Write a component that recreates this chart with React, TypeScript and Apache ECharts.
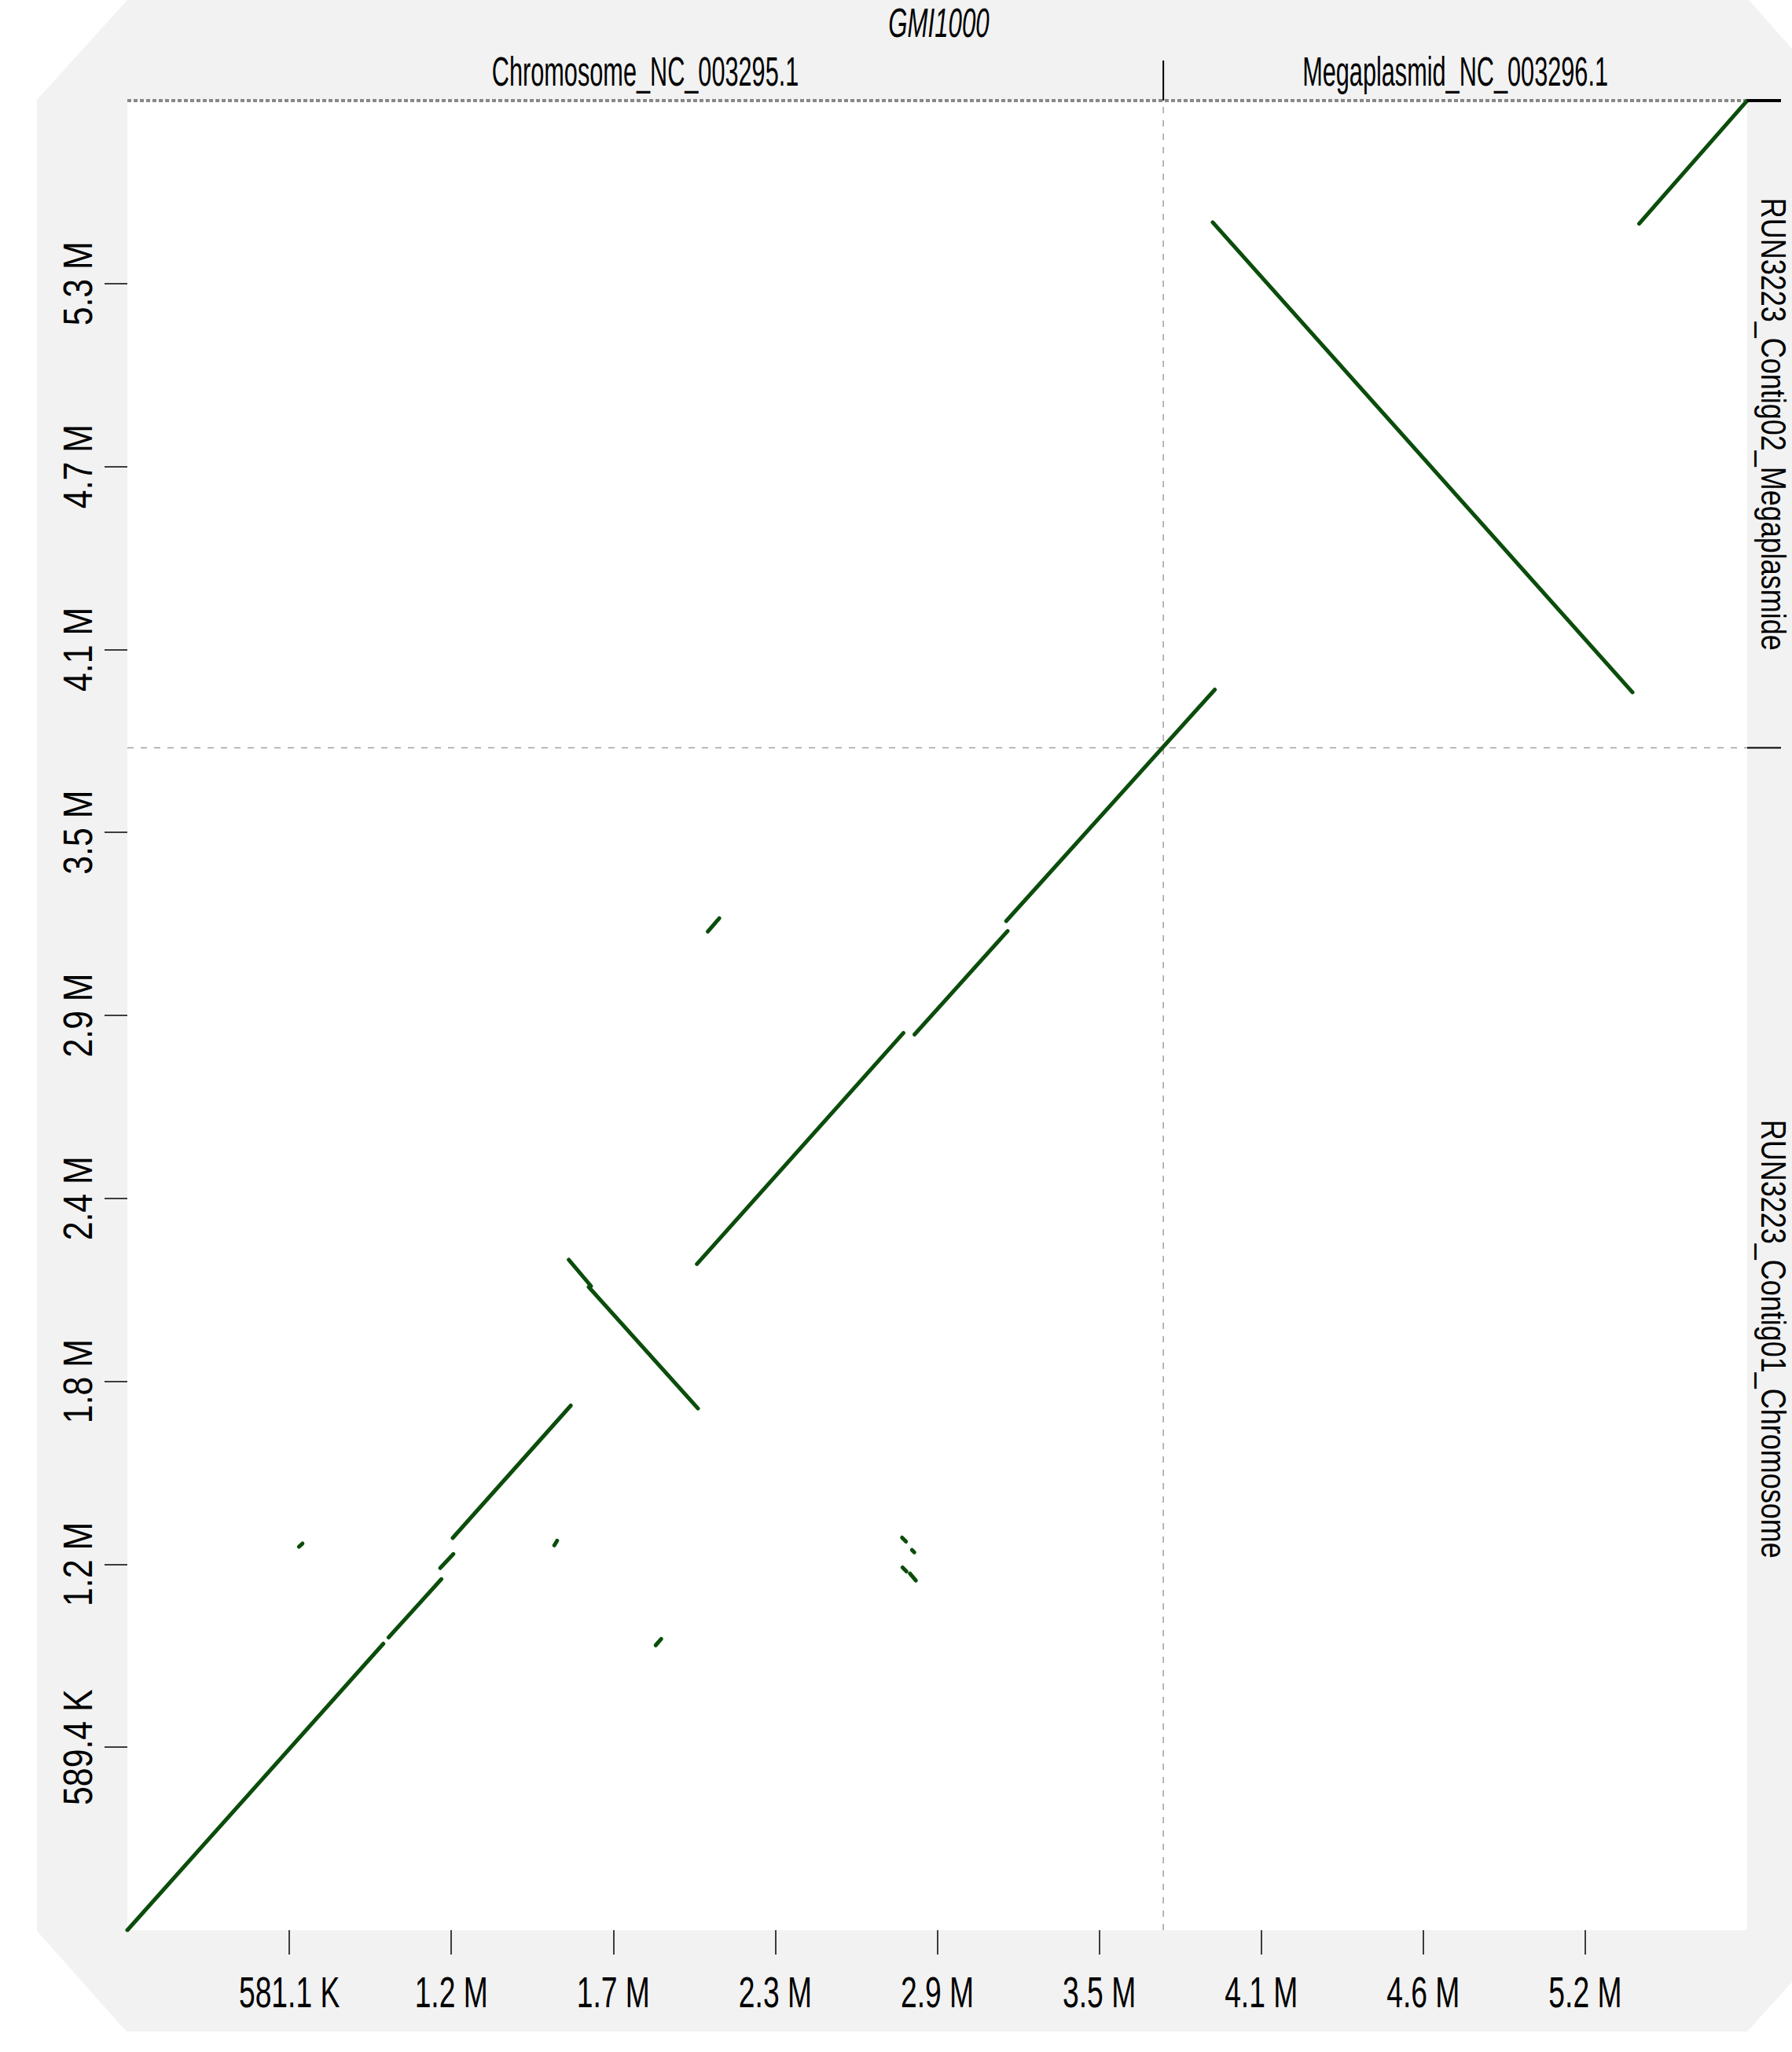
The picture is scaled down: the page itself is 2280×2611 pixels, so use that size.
import React, { useEffect, useRef } from "react";
import * as echarts from "echarts";

// ---- data ----
const X_TOTAL = 5810922; // GMI1000 total length
const Y_TOTAL = 5894000; // RUN3223 total length

const refNames = ["Chromosome_NC_003295.1", "Megaplasmid_NC_003296.1"];
const refBounds = [0, 3716413, 5810922];
const qryNames = ["RUN3223_Contig01_Chromosome", "RUN3223_Contig02_Megaplasmide"];
const qryBounds = [0, 3809000, 5894000];

const xTickValues = [581092, 1162184, 1743277, 2324369, 2905461, 3486553, 4067645, 4648738, 5229830];
const xTickLabels = ["581.1 K", "1.2 M", "1.7 M", "2.3 M", "2.9 M", "3.5 M", "4.1 M", "4.6 M", "5.2 M"];
const yTickValues = [589400, 1178800, 1768200, 2357600, 2947000, 3536400, 4125800, 4715200, 5304600];
const yTickLabels = ["589.4 K", "1.2 M", "1.8 M", "2.4 M", "2.9 M", "3.5 M", "4.1 M", "4.7 M", "5.3 M"];

// alignment segments: reference (x) start/end, query (y) start/end
const segX1 = [0, 937200, 1122200, 1167000, 1583400, 1655000, 2043300, 2824000, 3152700, 3893500, 5423300, 615500, 1531800, 1895300, 2082200, 2779200, 2814700, 2780900, 2807400];
const segY1 = [0, 943100, 1166400, 1263400, 2160100, 2072300, 2146000, 2885500, 3250800, 5501900, 5497600, 1235500, 1239800, 917800, 3217200, 1264600, 1224900, 1168400, 1148900];
const segX2 = [918300, 1126700, 1169800, 1590800, 1663500, 2046900, 2784000, 3157800, 3901100, 5399300, 5810000, 628200, 1541700, 1915300, 2123600, 2793300, 2823200, 2795000, 2828800];
const segY2 = [922800, 1131000, 1212000, 1690000, 2074800, 1680900, 2890300, 3218700, 3996400, 3987800, 5893000, 1245600, 1254500, 938500, 3260000, 1252000, 1217300, 1155800, 1126200];

const refTitle = "GMI1000";

const LINE_COLOR = "#0b4d0b";
const FONT = "Liberation Sans, Arial, sans-serif";

export default function App() {
  const ref = useRef<HTMLDivElement>(null);
  useEffect(() => {
    if (!ref.current) return;
    const chart = echarts.init(ref.current, undefined, { renderer: "svg" });
    const segData = segX1.map((x, i) => ({
      coords: [
        [x, segY1[i]],
        [segX2[i], segY2[i]],
      ],
    }));
    chart.setOption({
      animation: false,
      grid: { left: 162, top: 128, width: 2061, height: 2328, containLabel: false, outerBoundsMode: "none" },
      xAxis: {
        type: "value",
        min: 0,
        max: X_TOTAL,
        axisLine: { show: false },
        splitLine: { show: false },
        axisTick: { show: true, customValues: xTickValues, length: 31, lineStyle: { color: "#000", width: 1.5 } },
        axisLabel: { show: false },
      },
      yAxis: {
        type: "value",
        min: 0,
        max: Y_TOTAL,
        axisLine: { show: false },
        splitLine: { show: false },
        axisTick: { show: true, customValues: yTickValues, length: 29, lineStyle: { color: "#000", width: 1.5 } },
        axisLabel: { show: false },
      },
      series: [
        {
          type: "line",
          data: [
            [refBounds[1], 0],
            [refBounds[1], Y_TOTAL],
          ],
          symbol: "none",
          clip: false,
          silent: true,
          lineStyle: { color: "#a0a0a0", width: 1.5, type: [8, 9] },
          z: 1,
        },
        {
          type: "line",
          data: [
            [0, qryBounds[1]],
            [X_TOTAL, qryBounds[1]],
          ],
          symbol: "none",
          clip: false,
          silent: true,
          lineStyle: { color: "#a0a0a0", width: 1.5, type: [8, 9] },
          z: 1,
        },
        {
          type: "line",
          data: [
            [0, Y_TOTAL],
            [X_TOTAL, Y_TOTAL],
          ],
          symbol: "none",
          clip: false,
          silent: true,
          lineStyle: { color: "#888888", width: 4, type: [5, 3] },
          z: 1,
        },
        {
          type: "lines",
          coordinateSystem: "cartesian2d",
          data: segData,
          silent: true,
          lineStyle: { color: LINE_COLOR, width: 5, opacity: 1, cap: "round", curveness: 0 },
          z: 5,
        },
      ],
    });

    const px = (x: number, y: number) => chart.convertToPixel({ xAxisIndex: 0, yAxisIndex: 0 }, [x, y]) as number[];
    const [gl, gt] = px(0, Y_TOTAL);
    const [gr, gb] = px(X_TOTAL, 0);
    const colDiv = px(refBounds[1], 0)[0];
    const rowDivs = qryBounds.slice(1).map((q) => px(0, q)[1]);
    const colCenters = refNames.map((_, i) => (px(refBounds[i], 0)[0] + px(refBounds[i + 1], 0)[0]) / 2);
    const rowCenters = qryNames.map((_, i) => (px(0, qryBounds[i])[1] + px(0, qryBounds[i + 1])[1]) / 2);

    const graphic: any[] = [
      {
        type: "polygon",
        z: -20,
        silent: true,
        shape: {
          points: [
            [162, 0],
            [2225, 0],
            [2280, 62],
            [2280, 2522],
            [2223, 2585],
            [161, 2585],
            [47, 2457],
            [47, 127],
          ],
        },
        style: { fill: "#f2f2f2" },
      },
      { type: "rect", z: -19, silent: true, shape: { x: gl, y: gt, width: gr - gl, height: gb - gt }, style: { fill: "#ffffff" } },
      { type: "line", z: 10, silent: true, shape: { x1: colDiv, y1: 77, x2: colDiv, y2: gt }, style: { stroke: "#000", lineWidth: 2 } },
      ...rowDivs.map((y, i) => ({
        type: "line",
        z: 10,
        silent: true,
        shape: { x1: gr, y1: y, x2: gr + 43, y2: y },
        style: { stroke: "#000", lineWidth: i === rowDivs.length - 1 ? 4 : 2 },
      })),
      // x tick labels
      ...xTickValues.map((v, i) => ({
        type: "text",
        z: 10,
        silent: true,
        x: px(v, 0)[0],
        y: 2535,
        scaleX: 0.665,
        style: { text: xTickLabels[i], fontSize: 56, fontFamily: FONT, fill: "#000", textAlign: "center", textVerticalAlign: "middle" },
      })),
      // y tick labels
      ...yTickValues.map((v, i) => ({
        type: "text",
        z: 10,
        silent: true,
        x: 99,
        y: px(0, v)[1],
        rotation: Math.PI / 2,
        scaleX: 0.84,
        style: { text: yTickLabels[i], fontSize: 51, fontFamily: FONT, fill: "#000", textAlign: "center", textVerticalAlign: "middle" },
      })),
      {
        type: "text",
        z: 10,
        silent: true,
        x: (gl + gr) / 2 + 2,
        y: 29,
        scaleX: 0.6,
        style: { text: refTitle, fontSize: 52, fontFamily: FONT, fontStyle: "italic", fill: "#000", textAlign: "center", textVerticalAlign: "middle" },
      },
      ...refNames.map((name, i) => ({
        type: "text",
        z: 10,
        silent: true,
        x: colCenters[i],
        y: 91,
        scaleX: 0.59,
        style: { text: name, fontSize: 52, fontFamily: FONT, fill: "#000", textAlign: "center", textVerticalAlign: "middle" },
      })),
      ...qryNames.map((name, i) => ({
        type: "text",
        z: 10,
        silent: true,
        x: 2256,
        y: rowCenters[i],
        rotation: -Math.PI / 2,
        scaleX: 0.8,
        style: { text: name, fontSize: 45, fontFamily: FONT, fill: "#000", textAlign: "center", textVerticalAlign: "middle" },
      })),
    ];
    chart.setOption({ graphic });

    return () => chart.dispose();
  }, []);
  return <div ref={ref} style={{ position: "absolute", left: 0, top: 0, width: 2280, height: 2611 }} />;
}
